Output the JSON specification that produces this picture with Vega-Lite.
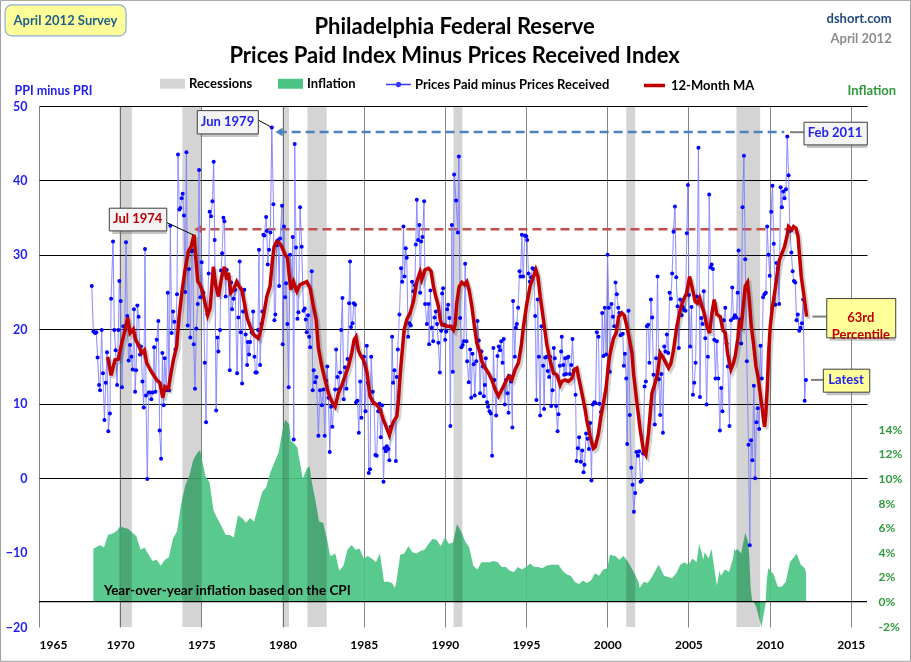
{
"$schema":"https://vega.github.io/schema/vega-lite/v6.json",
"width":828,"height":521,
"autosize":{"type":"none"},
"padding":{"left":39,"top":106,"right":44,"bottom":35},
"background":"#ffffff",
"config":{
 "font":"Lato",
 "view":{"stroke":null},
 "axis":{"labelFont":"Lato","labelFontWeight":"bold","labelFontSize":12,"ticks":false,"domain":false,"titleFont":"Lato","titleFontWeight":"bold","labelOverlap":false},
 "legend":{"labelFont":"Lato","labelFontSize":13,"labelFontWeight":"bold","labelColor":"#000000","padding":0,"labelLimit":400,"title":null}
},
"datasets":{
"ppi":[
{"t":1968.25,"v":25.8},{"t":1968.35,"v":19.7},{"t":1968.45,"v":19.5},{"t":1968.53,"v":19.6},{"t":1968.61,"v":16.2},{"t":1968.70,"v":12.5},{"t":1968.76,"v":11.8},{"t":1968.86,"v":19.9},{"t":1968.94,"v":14.1},{"t":1969.03,"v":7.8},{"t":1969.11,"v":12.8},{"t":1969.19,"v":16.9},{"t":1969.27,"v":6.3},{"t":1969.37,"v":8.7},{"t":1969.44,"v":24.1},{"t":1969.56,"v":31.8},{"t":1969.64,"v":19.9},{"t":1969.72,"v":17.2},{"t":1969.81,"v":12.5},{"t":1969.89,"v":19.9},{"t":1969.95,"v":26.5},{"t":1970.03,"v":23.8},{"t":1970.11,"v":12.2},{"t":1970.20,"v":20.4},{"t":1970.28,"v":19.9},{"t":1970.36,"v":31.7},{"t":1970.44,"v":21.8},{"t":1970.52,"v":15.8},{"t":1970.61,"v":17.9},{"t":1970.69,"v":16.3},{"t":1970.77,"v":14.6},{"t":1970.85,"v":22.7},{"t":1970.92,"v":11.6},{"t":1970.98,"v":14.5},{"t":1971.06,"v":23.2},{"t":1971.14,"v":21.7},{"t":1971.22,"v":16.6},{"t":1971.28,"v":17.7},{"t":1971.37,"v":13.0},{"t":1971.45,"v":9.5},{"t":1971.53,"v":30.8},{"t":1971.59,"v":11.1},{"t":1971.67,"v":-0.1},{"t":1971.76,"v":11.5},{"t":1971.84,"v":11.5},{"t":1971.92,"v":10.6},{"t":1972.00,"v":11.5},{"t":1972.09,"v":17.6},{"t":1972.17,"v":11.6},{"t":1972.25,"v":18.6},{"t":1972.35,"v":21.1},{"t":1972.43,"v":6.4},{"t":1972.52,"v":2.6},{"t":1972.60,"v":16.8},{"t":1972.68,"v":9.8},{"t":1972.74,"v":16.1},{"t":1972.85,"v":11.8},{"t":1972.93,"v":24.9},{"t":1973.01,"v":11.8},{"t":1973.09,"v":33.9},{"t":1973.17,"v":19.5},{"t":1973.26,"v":22.4},{"t":1973.34,"v":21.0},{"t":1973.40,"v":17.3},{"t":1973.50,"v":24.7},{"t":1973.56,"v":43.5},{"t":1973.65,"v":36.1},{"t":1973.71,"v":36.3},{"t":1973.79,"v":37.6},{"t":1973.85,"v":38.2},{"t":1973.93,"v":35.3},{"t":1974.00,"v":25.0},{"t":1974.08,"v":43.8},{"t":1974.16,"v":20.5},{"t":1974.24,"v":28.1},{"t":1974.32,"v":18.9},{"t":1974.41,"v":30.5},{"t":1974.47,"v":30.6},{"t":1974.53,"v":18.0},{"t":1974.61,"v":12.0},{"t":1974.69,"v":20.1},{"t":1974.78,"v":23.4},{"t":1974.86,"v":41.4},{"t":1974.94,"v":24.3},{"t":1975.02,"v":29.0},{"t":1975.12,"v":24.9},{"t":1975.21,"v":15.5},{"t":1975.29,"v":7.5},{"t":1975.37,"v":22.0},{"t":1975.45,"v":27.5},{"t":1975.51,"v":35.8},{"t":1975.60,"v":35.2},{"t":1975.68,"v":37.2},{"t":1975.76,"v":42.5},{"t":1975.82,"v":32.0},{"t":1975.91,"v":9.1},{"t":1975.99,"v":18.9},{"t":1976.05,"v":17.0},{"t":1976.15,"v":19.9},{"t":1976.21,"v":27.9},{"t":1976.28,"v":30.2},{"t":1976.36,"v":35.0},{"t":1976.42,"v":34.5},{"t":1976.50,"v":24.4},{"t":1976.56,"v":28.0},{"t":1976.67,"v":26.9},{"t":1976.75,"v":14.5},{"t":1976.83,"v":26.3},{"t":1976.89,"v":22.7},{"t":1976.99,"v":24.1},{"t":1977.08,"v":25.3},{"t":1977.20,"v":14.1},{"t":1977.28,"v":21.6},{"t":1977.36,"v":29.1},{"t":1977.43,"v":19.6},{"t":1977.51,"v":12.7},{"t":1977.57,"v":22.4},{"t":1977.65,"v":25.3},{"t":1977.73,"v":19.3},{"t":1977.82,"v":15.2},{"t":1977.86,"v":18.3},{"t":1977.94,"v":16.6},{"t":1978.00,"v":18.3},{"t":1978.10,"v":19.6},{"t":1978.19,"v":22.4},{"t":1978.27,"v":16.3},
{"t":1978.33,"v":14.2},{"t":1978.41,"v":14.2},{"t":1978.49,"v":19.9},{"t":1978.55,"v":30.7},{"t":1978.62,"v":15.2},{"t":1978.70,"v":20.7},{"t":1978.76,"v":22.4},{"t":1978.82,"v":32.7},{"t":1978.88,"v":32.6},{"t":1978.99,"v":35.1},{"t":1979.03,"v":33.2},{"t":1979.09,"v":28.7},{"t":1979.17,"v":30.7},{"t":1979.25,"v":33.0},{"t":1979.34,"v":47.1},{"t":1979.44,"v":36.8},{"t":1979.50,"v":21.2},{"t":1979.56,"v":22.0},{"t":1979.64,"v":31.3},{"t":1979.73,"v":32.0},{"t":1979.79,"v":25.8},{"t":1979.85,"v":32.2},{"t":1979.97,"v":36.6},{"t":1980.01,"v":18.0},{"t":1980.09,"v":33.8},{"t":1980.16,"v":24.3},{"t":1980.22,"v":26.2},{"t":1980.30,"v":20.7},{"t":1980.38,"v":12.2},{"t":1980.46,"v":30.0},{"t":1980.57,"v":26.2},{"t":1980.63,"v":32.4},{"t":1980.69,"v":5.2},{"t":1980.75,"v":44.9},{"t":1980.83,"v":31.0},{"t":1980.92,"v":21.4},{"t":1980.98,"v":22.3},{"t":1981.08,"v":36.4},{"t":1981.18,"v":31.1},{"t":1981.29,"v":22.5},{"t":1981.37,"v":22.8},{"t":1981.43,"v":21.3},{"t":1981.49,"v":19.6},{"t":1981.57,"v":21.9},{"t":1981.64,"v":19.0},{"t":1981.70,"v":17.6},{"t":1981.80,"v":27.8},{"t":1981.86,"v":11.8},{"t":1981.92,"v":14.5},{"t":1982.00,"v":12.9},{"t":1982.09,"v":13.6},{"t":1982.21,"v":5.7},{"t":1982.31,"v":11.8},{"t":1982.42,"v":9.8},{"t":1982.52,"v":11.9},{"t":1982.60,"v":5.7},{"t":1982.68,"v":13.1},{"t":1982.76,"v":15.0},{"t":1982.83,"v":10.8},{"t":1982.91,"v":3.5},{"t":1982.99,"v":9.6},{"t":1983.07,"v":6.9},{"t":1983.16,"v":9.8},{"t":1983.24,"v":11.9},{"t":1983.30,"v":17.3},{"t":1983.38,"v":13.6},{"t":1983.46,"v":11.9},{"t":1983.55,"v":14.2},{"t":1983.61,"v":19.9},{"t":1983.69,"v":24.2},{"t":1983.77,"v":10.6},{"t":1983.85,"v":14.9},{"t":1983.94,"v":12.0},{"t":1984.00,"v":16.0},{"t":1984.10,"v":23.5},{"t":1984.16,"v":29.1},{"t":1984.22,"v":20.3},{"t":1984.31,"v":20.8},{"t":1984.39,"v":23.5},{"t":1984.47,"v":23.3},{"t":1984.53,"v":10.2},{"t":1984.61,"v":10.4},{"t":1984.70,"v":6.1},{"t":1984.78,"v":13.0},{"t":1984.86,"v":8.1},{"t":1984.94,"v":16.3},{"t":1985.02,"v":16.3},{"t":1985.11,"v":9.0},{"t":1985.19,"v":17.8},{"t":1985.25,"v":12.8},{"t":1985.31,"v":0.7},{"t":1985.39,"v":1.2},{"t":1985.46,"v":16.3},{"t":1985.56,"v":11.6},{"t":1985.64,"v":10.1},{"t":1985.72,"v":3.1},{"t":1985.80,"v":3.0},{"t":1985.89,"v":9.0},{"t":1985.97,"v":10.0},{"t":1986.05,"v":5.5},{"t":1986.13,"v":9.8},{"t":1986.22,"v":-0.5},{"t":1986.28,"v":4.0},{"t":1986.36,"v":3.6},{"t":1986.42,"v":4.3},{"t":1986.52,"v":3.9},{"t":1986.58,"v":2.4},{"t":1986.67,"v":6.9},{"t":1986.75,"v":19.0},{"t":1986.81,"v":12.8},{"t":1986.89,"v":14.5},{"t":1986.98,"v":2.3},{"t":1987.04,"v":13.6},{"t":1987.10,"v":17.3},{"t":1987.20,"v":22.0},{"t":1987.30,"v":28.2},{"t":1987.37,"v":26.4},{"t":1987.45,"v":33.8},{"t":1987.51,"v":27.1},{"t":1987.59,"v":30.9},{"t":1987.65,"v":29.6},{"t":1987.74,"v":19.0},{"t":1987.82,"v":20.8},{"t":1987.90,"v":20.5},{"t":1987.98,"v":26.4},{"t":1988.06,"v":25.1},{"t":1988.15,"v":25.9},{"t":1988.21,"v":31.4},{"t":1988.27,"v":37.4},{"t":1988.35,"v":32.0},{"t":1988.43,"v":34.0},
{"t":1988.48,"v":24.9},{"t":1988.54,"v":31.8},{"t":1988.62,"v":32.4},{"t":1988.72,"v":37.2},{"t":1988.78,"v":23.4},{"t":1988.89,"v":20.7},{"t":1988.99,"v":23.4},{"t":1989.03,"v":18.0},{"t":1989.11,"v":25.2},{"t":1989.19,"v":20.2},{"t":1989.28,"v":18.4},{"t":1989.36,"v":21.6},{"t":1989.44,"v":22.4},{"t":1989.52,"v":20.7},{"t":1989.60,"v":18.2},{"t":1989.69,"v":14.2},{"t":1989.77,"v":19.8},{"t":1989.83,"v":24.8},{"t":1989.89,"v":25.5},{"t":1989.95,"v":20.6},{"t":1990.02,"v":18.6},{"t":1990.08,"v":19.7},{"t":1990.14,"v":22.7},{"t":1990.20,"v":23.3},{"t":1990.28,"v":21.5},{"t":1990.34,"v":7.0},{"t":1990.43,"v":34.0},{"t":1990.49,"v":14.3},{"t":1990.57,"v":40.8},{"t":1990.69,"v":37.3},{"t":1990.80,"v":33.0},{"t":1990.86,"v":43.2},{"t":1990.94,"v":21.5},{"t":1991.02,"v":17.6},{"t":1991.10,"v":17.9},{"t":1991.17,"v":18.4},{"t":1991.25,"v":28.8},{"t":1991.33,"v":18.4},{"t":1991.37,"v":15.7},{"t":1991.47,"v":12.9},{"t":1991.56,"v":17.3},{"t":1991.62,"v":10.8},{"t":1991.70,"v":16.7},{"t":1991.78,"v":15.3},{"t":1991.84,"v":11.1},{"t":1991.93,"v":15.7},{"t":1992.01,"v":21.1},{"t":1992.09,"v":18.5},{"t":1992.17,"v":11.4},{"t":1992.25,"v":17.0},{"t":1992.34,"v":15.0},{"t":1992.40,"v":11.0},{"t":1992.46,"v":12.5},{"t":1992.52,"v":16.1},{"t":1992.60,"v":10.2},{"t":1992.66,"v":9.6},{"t":1992.75,"v":9.0},{"t":1992.83,"v":8.7},{"t":1992.91,"v":3.0},{"t":1992.99,"v":17.5},{"t":1993.05,"v":13.2},{"t":1993.16,"v":8.4},{"t":1993.24,"v":16.4},{"t":1993.32,"v":17.7},{"t":1993.40,"v":17.2},{"t":1993.47,"v":18.4},{"t":1993.55,"v":15.5},{"t":1993.63,"v":18.7},{"t":1993.69,"v":9.9},{"t":1993.77,"v":13.2},{"t":1993.86,"v":11.4},{"t":1993.92,"v":8.8},{"t":1994.00,"v":13.7},{"t":1994.08,"v":13.0},{"t":1994.16,"v":6.8},{"t":1994.20,"v":23.8},{"t":1994.31,"v":16.3},{"t":1994.37,"v":20.2},{"t":1994.43,"v":20.7},{"t":1994.51,"v":22.9},{"t":1994.60,"v":27.8},{"t":1994.66,"v":27.1},{"t":1994.74,"v":32.7},{"t":1994.82,"v":27.1},{"t":1994.92,"v":32.6},{"t":1995.01,"v":32.5},{"t":1995.07,"v":32.0},{"t":1995.15,"v":27.5},{"t":1995.23,"v":26.4},{"t":1995.31,"v":27.0},{"t":1995.40,"v":28.2},{"t":1995.48,"v":28.1},{"t":1995.56,"v":21.8},{"t":1995.64,"v":10.5},{"t":1995.72,"v":24.0},{"t":1995.79,"v":16.3},{"t":1995.87,"v":8.4},{"t":1995.95,"v":20.4},{"t":1996.05,"v":15.1},{"t":1996.11,"v":9.3},{"t":1996.18,"v":16.2},{"t":1996.28,"v":16.3},{"t":1996.34,"v":14.4},{"t":1996.42,"v":13.6},{"t":1996.48,"v":16.3},{"t":1996.55,"v":9.7},{"t":1996.63,"v":11.8},{"t":1996.71,"v":17.5},{"t":1996.77,"v":16.1},{"t":1996.85,"v":9.7},{"t":1996.94,"v":6.3},{"t":1997.00,"v":8.6},{"t":1997.08,"v":15.1},{"t":1997.16,"v":17.0},{"t":1997.20,"v":19.0},{"t":1997.29,"v":15.2},{"t":1997.35,"v":13.9},{"t":1997.41,"v":16.1},{"t":1997.47,"v":14.0},{"t":1997.55,"v":16.2},{"t":1997.61,"v":16.3},{"t":1997.70,"v":14.0},{"t":1997.78,"v":15.2},{"t":1997.86,"v":18.7},{"t":1997.94,"v":14.5},{"t":1998.05,"v":11.2},{"t":1998.11,"v":2.3},{"t":1998.19,"v":4.0},{"t":1998.27,"v":5.5},{"t":1998.37,"v":2.2},{"t":1998.46,"v":3.7},{"t":1998.54,"v":0.8},{"t":1998.60,"v":1.8},
{"t":1998.70,"v":6.0},{"t":1998.79,"v":5.3},{"t":1998.87,"v":3.9},{"t":1998.95,"v":7.4},{"t":1999.03,"v":-0.3},{"t":1999.11,"v":9.9},{"t":1999.20,"v":10.2},{"t":1999.28,"v":10.1},{"t":1999.36,"v":19.6},{"t":1999.46,"v":19.0},{"t":1999.52,"v":10.0},{"t":1999.61,"v":8.9},{"t":1999.69,"v":22.2},{"t":1999.77,"v":16.4},{"t":1999.85,"v":22.9},{"t":1999.93,"v":16.6},{"t":2000.02,"v":30.0},{"t":2000.10,"v":22.9},{"t":2000.16,"v":14.3},{"t":2000.26,"v":23.4},{"t":2000.35,"v":21.7},{"t":2000.43,"v":20.4},{"t":2000.51,"v":26.3},{"t":2000.59,"v":24.7},{"t":2000.68,"v":22.9},{"t":2000.74,"v":22.2},{"t":2000.82,"v":19.2},{"t":2000.96,"v":19.4},{"t":2001.02,"v":15.1},{"t":2001.09,"v":16.7},{"t":2001.17,"v":13.4},{"t":2001.23,"v":4.6},{"t":2001.31,"v":22.5},{"t":2001.39,"v":8.5},{"t":2001.48,"v":1.4},{"t":2001.56,"v":-0.9},{"t":2001.64,"v":-4.5},{"t":2001.72,"v":-2.0},{"t":2001.80,"v":3.5},{"t":2001.89,"v":3.0},{"t":2001.97,"v":3.6},{"t":2002.05,"v":-0.5},{"t":2002.13,"v":-0.3},{"t":2002.21,"v":3.3},{"t":2002.30,"v":12.3},{"t":2002.38,"v":13.0},{"t":2002.44,"v":20.4},{"t":2002.52,"v":20.6},{"t":2002.60,"v":15.5},{"t":2002.69,"v":24.0},{"t":2002.77,"v":21.6},{"t":2002.85,"v":13.9},{"t":2002.93,"v":7.2},{"t":2003.01,"v":16.1},{"t":2003.10,"v":27.1},{"t":2003.18,"v":13.3},{"t":2003.26,"v":8.5},{"t":2003.34,"v":14.0},{"t":2003.43,"v":6.1},{"t":2003.51,"v":17.7},{"t":2003.59,"v":17.0},{"t":2003.67,"v":19.3},{"t":2003.76,"v":16.8},{"t":2003.84,"v":24.9},{"t":2003.92,"v":24.1},{"t":2004.00,"v":27.5},{"t":2004.08,"v":33.1},{"t":2004.17,"v":36.5},{"t":2004.25,"v":27.0},{"t":2004.33,"v":23.1},{"t":2004.41,"v":17.5},{"t":2004.49,"v":24.0},{"t":2004.58,"v":21.9},{"t":2004.66,"v":23.0},{"t":2004.74,"v":22.6},{"t":2004.82,"v":22.5},{"t":2004.90,"v":32.9},{"t":2004.97,"v":39.4},{"t":2005.03,"v":24.6},{"t":2005.11,"v":17.7},{"t":2005.19,"v":23.0},{"t":2005.28,"v":11.2},{"t":2005.36,"v":12.8},{"t":2005.44,"v":15.5},{"t":2005.52,"v":24.4},{"t":2005.62,"v":44.4},{"t":2005.71,"v":10.9},{"t":2005.79,"v":21.5},{"t":2005.87,"v":20.7},{"t":2005.95,"v":25.1},{"t":2006.04,"v":18.8},{"t":2006.12,"v":9.9},{"t":2006.20,"v":16.3},{"t":2006.28,"v":38.1},{"t":2006.36,"v":28.3},{"t":2006.43,"v":28.7},{"t":2006.51,"v":28.1},{"t":2006.59,"v":18.6},{"t":2006.67,"v":13.4},{"t":2006.75,"v":18.4},{"t":2006.84,"v":13.4},{"t":2006.94,"v":6.4},{"t":2007.02,"v":12.1},{"t":2007.10,"v":9.0},{"t":2007.18,"v":21.2},{"t":2007.27,"v":22.9},{"t":2007.35,"v":18.1},{"t":2007.43,"v":15.0},{"t":2007.53,"v":7.0},{"t":2007.62,"v":21.2},{"t":2007.70,"v":25.6},{"t":2007.78,"v":21.5},{"t":2007.86,"v":21.9},{"t":2007.95,"v":21.6},{"t":2008.03,"v":24.9},{"t":2008.09,"v":30.6},{"t":2008.17,"v":21.3},{"t":2008.25,"v":18.1},{"t":2008.33,"v":36.4},{"t":2008.42,"v":43.3},{"t":2008.50,"v":29.4},{"t":2008.60,"v":15.7},{"t":2008.70,"v":4.5},
{"t":2008.78,"v":-9.0},{"t":2008.86,"v":5.1},{"t":2008.94,"v":2.4},{"t":2009.03,"v":12.4},{"t":2009.11,"v":0.0},{"t":2009.19,"v":7.5},{"t":2009.27,"v":9.4},{"t":2009.36,"v":6.6},{"t":2009.44,"v":17.8},{"t":2009.52,"v":13.4},{"t":2009.60,"v":24.3},{"t":2009.68,"v":24.7},{"t":2009.77,"v":24.9},{"t":2009.85,"v":33.8},{"t":2009.93,"v":30.0},{"t":2010.01,"v":27.2},{"t":2010.10,"v":35.8},{"t":2010.18,"v":39.3},{"t":2010.26,"v":31.5},{"t":2010.35,"v":23.3},{"t":2010.43,"v":28.9},{"t":2010.51,"v":28.2},{"t":2010.59,"v":23.4},{"t":2010.68,"v":39.1},{"t":2010.76,"v":36.4},{"t":2010.84,"v":38.5},{"t":2010.92,"v":37.6},{"t":2011.01,"v":38.8},{"t":2011.09,"v":45.9},{"t":2011.17,"v":40.7},{"t":2011.25,"v":33.2},{"t":2011.34,"v":30.3},{"t":2011.42,"v":27.8},{"t":2011.50,"v":26.5},{"t":2011.58,"v":26.3},{"t":2011.66,"v":21.2},{"t":2011.74,"v":22.0},{"t":2011.83,"v":19.8},{"t":2011.91,"v":20.2},{"t":2011.99,"v":20.8},{"t":2012.07,"v":24.0},{"t":2012.16,"v":10.4},{"t":2012.24,"v":13.2}
],
"ma":[
{"t":1969.23,"v":16.3},{"t":1969.44,"v":13.8},{"t":1969.68,"v":15.9},{"t":1969.89,"v":16.0},{"t":1970.09,"v":18.1},{"t":1970.30,"v":19.9},{"t":1970.46,"v":21.6},{"t":1970.61,"v":19.5},{"t":1970.81,"v":20.0},{"t":1970.95,"v":18.6},{"t":1971.12,"v":17.9},{"t":1971.33,"v":16.8},{"t":1971.49,"v":17.2},{"t":1971.63,"v":15.5},{"t":1971.84,"v":14.6},{"t":1972.04,"v":13.9},{"t":1972.25,"v":13.2},{"t":1972.45,"v":12.8},{"t":1972.62,"v":10.8},{"t":1972.76,"v":12.3},{"t":1972.97,"v":12.0},{"t":1973.13,"v":14.1},{"t":1973.28,"v":15.9},{"t":1973.48,"v":17.7},{"t":1973.63,"v":21.7},{"t":1973.79,"v":24.8},{"t":1974.00,"v":28.0},{"t":1974.20,"v":30.5},{"t":1974.37,"v":31.1},{"t":1974.55,"v":32.7},{"t":1974.65,"v":29.8},{"t":1974.78,"v":26.4},{"t":1974.92,"v":26.0},{"t":1975.06,"v":25.1},{"t":1975.23,"v":23.5},{"t":1975.39,"v":21.9},{"t":1975.54,"v":22.9},{"t":1975.74,"v":28.4},{"t":1975.88,"v":26.0},{"t":1976.05,"v":24.4},{"t":1976.26,"v":27.1},{"t":1976.42,"v":28.4},{"t":1976.56,"v":26.7},{"t":1976.67,"v":27.6},{"t":1976.81,"v":24.9},{"t":1976.97,"v":25.3},{"t":1977.18,"v":26.4},{"t":1977.32,"v":25.8},{"t":1977.49,"v":25.3},{"t":1977.65,"v":23.5},{"t":1977.82,"v":21.5},{"t":1978.00,"v":20.4},{"t":1978.21,"v":19.3},{"t":1978.51,"v":18.8},{"t":1978.62,"v":19.5},{"t":1978.82,"v":21.7},{"t":1979.03,"v":24.4},{"t":1979.23,"v":25.8},{"t":1979.38,"v":29.3},{"t":1979.48,"v":31.1},{"t":1979.64,"v":31.8},{"t":1979.81,"v":31.6},{"t":1979.95,"v":31.1},{"t":1980.16,"v":30.0},{"t":1980.30,"v":29.6},{"t":1980.42,"v":27.1},{"t":1980.51,"v":25.3},{"t":1980.67,"v":26.4},{"t":1980.88,"v":25.1},{"t":1981.08,"v":26.0},{"t":1981.29,"v":26.2},{"t":1981.49,"v":26.4},{"t":1981.70,"v":25.5},{"t":1981.90,"v":23.1},{"t":1982.07,"v":21.3},{"t":1982.21,"v":17.5},{"t":1982.42,"v":15.0},{"t":1982.62,"v":13.2},{"t":1982.83,"v":11.4},{"t":1983.03,"v":10.3},{"t":1983.24,"v":9.6},{"t":1983.44,"v":11.4},{"t":1983.65,"v":12.5},{"t":1983.85,"v":13.7},{"t":1984.06,"v":15.0},{"t":1984.26,"v":16.8},{"t":1984.41,"v":18.6},{"t":1984.53,"v":19.0},{"t":1984.67,"v":17.2},{"t":1984.78,"v":16.6},{"t":1984.98,"v":15.9},{"t":1985.19,"v":14.3},{"t":1985.39,"v":11.0},{"t":1985.60,"v":10.1},{"t":1985.80,"v":9.9},{"t":1986.01,"v":9.2},{"t":1986.22,"v":7.8},{"t":1986.42,"v":6.7},{"t":1986.58,"v":5.8},{"t":1986.73,"v":6.9},{"t":1986.83,"v":7.6},{"t":1987.04,"v":8.3},{"t":1987.14,"v":10.5},{"t":1987.24,"v":13.7},{"t":1987.34,"v":16.3},{"t":1987.49,"v":19.9},{"t":1987.65,"v":21.3},{"t":1987.86,"v":22.2},{"t":1988.06,"v":23.7},{"t":1988.27,"v":26.4},{"t":1988.47,"v":27.7},{"t":1988.58,"v":26.7},{"t":1988.78,"v":28.0},{"t":1988.99,"v":28.2},{"t":1989.15,"v":27.8},{"t":1989.30,"v":25.7},{"t":1989.44,"v":24.4},{"t":1989.60,"v":23.1},{"t":1989.71,"v":21.3},{"t":1989.81,"v":20.6},{"t":1990.02,"v":20.5},{"t":1990.22,"v":20.4},{"t":1990.38,"v":20.4},{"t":1990.53,"v":19.9},{"t":1990.63,"v":20.6},{"t":1990.73,"v":23.5},{"t":1990.88,"v":25.7},{"t":1991.04,"v":26.3},{"t":1991.21,"v":26.0},{"t":1991.35,"v":26.4},{"t":1991.49,"v":25.3},{"t":1991.66,"v":23.1},{"t":1991.82,"v":20.4},{"t":1991.97,"v":18.1},{"t":1992.17,"v":16.8},{"t":1992.27,"v":15.7},{"t":1992.48,"v":14.8},{"t":1992.69,"v":14.1},{"t":1992.89,"v":13.2},{"t":1993.10,"v":11.9},{"t":1993.30,"v":11.0},{"t":1993.51,"v":11.9},{"t":1993.71,"v":12.8},{"t":1993.92,"v":13.7},{"t":1994.12,"v":13.2},{"t":1994.33,"v":14.6},{"t":1994.53,"v":15.5},{"t":1994.70,"v":17.7},{"t":1994.84,"v":20.4},{"t":1995.05,"v":23.5},{"t":1995.25,"v":25.8},{"t":1995.46,"v":27.1},{"t":1995.60,"v":28.0},{"t":1995.73,"v":27.1},{"t":1995.87,"v":24.4},{"t":1996.07,"v":21.3},{"t":1996.28,"v":17.9},{"t":1996.49,"v":15.7},{"t":1996.69,"v":14.1},{"t":1996.90,"v":13.9},{"t":1997.10,"v":12.5},{"t":1997.20,"v":13.0},{"t":1997.41,"v":13.2},{"t":1997.61,"v":13.0},{"t":1997.82,"v":13.4},{"t":1997.98,"v":14.6},{"t":1998.13,"v":14.8},{"t":1998.23,"v":13.6},{"t":1998.44,"v":11.4},{"t":1998.64,"v":9.2},{"t":1998.74,"v":7.8},{"t":1998.95,"v":5.6},{"t":1999.15,"v":4.0},{"t":1999.26,"v":4.2},{"t":1999.46,"v":6.0},{"t":1999.61,"v":8.3},{"t":1999.77,"v":10.1},{"t":1999.94,"v":12.3},{"t":2000.08,"v":15.5},{"t":2000.22,"v":17.2},{"t":2000.39,"v":18.8},{"t":2000.55,"v":19.5},{"t":2000.70,"v":21.7},{"t":2000.90,"v":22.2},{"t":2001.04,"v":21.9},{"t":2001.21,"v":20.4},{"t":2001.37,"v":18.6},{"t":2001.52,"v":16.8},{"t":2001.62,"v":14.1},{"t":2001.83,"v":10.1},{"t":2002.03,"v":6.5},{"t":2002.24,"v":3.6},{"t":2002.38,"v":3.1},{"t":2002.54,"v":6.0},{"t":2002.75,"v":11.4},{"t":2002.95,"v":12.8},{"t":2003.10,"v":14.1},{"t":2003.26,"v":16.8},{"t":2003.47,"v":16.1},{"t":2003.63,"v":15.4},{"t":2003.78,"v":14.8},{"t":2003.92,"v":15.4},{"t":2004.08,"v":17.2},{"t":2004.29,"v":20.4},{"t":2004.49,"v":22.6},{"t":2004.70,"v":24.0},{"t":2004.90,"v":24.9},{"t":2005.07,"v":27.1},{"t":2005.21,"v":25.8},{"t":2005.42,"v":23.7},{"t":2005.56,"v":23.5},{"t":2005.69,"v":24.2},{"t":2005.83,"v":23.1},{"t":2005.97,"v":22.2},{"t":2006.14,"v":20.4},{"t":2006.30,"v":19.5},{"t":2006.45,"v":22.2},{"t":2006.59,"v":24.0},{"t":2006.75,"v":22.0},{"t":2006.96,"v":21.7},{"t":2007.12,"v":19.9},{"t":2007.27,"v":19.5},{"t":2007.41,"v":16.8},{"t":2007.62,"v":14.6},{"t":2007.78,"v":15.5},{"t":2007.88,"v":16.4},{"t":2008.05,"v":18.8},{"t":2008.13,"v":20.8},{"t":2008.25,"v":20.4},{"t":2008.34,"v":22.2},{"t":2008.50,"v":25.8},{"t":2008.64,"v":26.3},{"t":2008.75,"v":24.0},{"t":2008.87,"v":20.4},{"t":2009.01,"v":18.1},{"t":2009.16,"v":15.0},{"t":2009.28,"v":13.7},{"t":2009.42,"v":11.4},{"t":2009.53,"v":9.6},{"t":2009.63,"v":7.8},{"t":2009.69,"v":6.9},{"t":2009.77,"v":8.7},{"t":2009.86,"v":12.3},{"t":2009.94,"v":16.8},{"t":2010.04,"v":20.4},{"t":2010.18,"v":23.1},{"t":2010.31,"v":24.9},{"t":2010.45,"v":27.1},{"t":2010.60,"v":29.3},{"t":2010.76,"v":30.2},{"t":2010.92,"v":31.1},{"t":2011.07,"v":32.5},{"t":2011.17,"v":33.8},{"t":2011.27,"v":33.6},{"t":2011.38,"v":33.4},{"t":2011.48,"v":33.8},{"t":2011.62,"v":33.6},{"t":2011.75,"v":32.5},{"t":2011.85,"v":29.8},{"t":2011.95,"v":27.1},{"t":2012.09,"v":24.9},{"t":2012.20,"v":23.1},{"t":2012.28,"v":21.7}
],
"cpi":[
{"t":1968.35,"v":4.3},{"t":1968.5,"v":4.4},{"t":1968.75,"v":4.6},{"t":1969.0,"v":4.4},{"t":1969.25,"v":5.4},{"t":1969.5,"v":5.5},{"t":1969.75,"v":5.7},{"t":1970.0,"v":6.1},{"t":1970.25,"v":6.0},{"t":1970.5,"v":5.9},{"t":1970.75,"v":5.6},{"t":1971.0,"v":5.3},{"t":1971.25,"v":4.2},{"t":1971.5,"v":4.4},{"t":1971.75,"v":3.8},{"t":1972.0,"v":3.3},{"t":1972.25,"v":3.4},{"t":1972.5,"v":2.9},{"t":1972.75,"v":3.4},{"t":1973.0,"v":3.6},{"t":1973.25,"v":5.1},{"t":1973.5,"v":5.7},{"t":1973.75,"v":7.9},{"t":1974.0,"v":9.4},{"t":1974.25,"v":10.2},{"t":1974.5,"v":11.5},{"t":1974.75,"v":12.1},{"t":1974.92,"v":12.3},{"t":1975.0,"v":11.8},{"t":1975.25,"v":10.2},{"t":1975.5,"v":9.7},{"t":1975.75,"v":7.4},{"t":1976.0,"v":6.7},{"t":1976.25,"v":6.1},{"t":1976.5,"v":5.4},{"t":1976.75,"v":5.4},{"t":1977.0,"v":5.2},{"t":1977.25,"v":7.0},{"t":1977.5,"v":6.8},{"t":1977.75,"v":6.4},{"t":1978.0,"v":6.8},{"t":1978.25,"v":6.5},{"t":1978.5,"v":7.7},{"t":1978.75,"v":8.9},{"t":1979.0,"v":9.3},{"t":1979.25,"v":10.5},{"t":1979.5,"v":11.3},{"t":1979.75,"v":12.1},{"t":1980.0,"v":13.9},{"t":1980.17,"v":14.8},{"t":1980.42,"v":14.4},{"t":1980.5,"v":13.1},{"t":1980.75,"v":12.8},{"t":1980.92,"v":12.5},{"t":1981.0,"v":11.8},{"t":1981.25,"v":10.0},{"t":1981.5,"v":10.8},{"t":1981.67,"v":11.0},{"t":1981.75,"v":10.1},{"t":1981.92,"v":8.9},{"t":1982.0,"v":8.4},{"t":1982.25,"v":6.5},{"t":1982.5,"v":6.4},{"t":1982.75,"v":5.0},{"t":1982.92,"v":3.8},{"t":1983.0,"v":3.7},{"t":1983.25,"v":3.9},{"t":1983.5,"v":2.5},{"t":1983.75,"v":2.9},{"t":1984.0,"v":4.2},{"t":1984.25,"v":4.6},{"t":1984.5,"v":4.2},{"t":1984.75,"v":4.3},{"t":1985.0,"v":3.5},{"t":1985.25,"v":3.7},{"t":1985.5,"v":3.5},{"t":1985.75,"v":3.2},{"t":1986.0,"v":3.9},{"t":1986.25,"v":1.6},{"t":1986.5,"v":1.6},{"t":1986.75,"v":1.5},{"t":1986.92,"v":1.1},{"t":1987.0,"v":1.5},{"t":1987.25,"v":3.8},{"t":1987.5,"v":3.9},{"t":1987.75,"v":4.5},{"t":1988.0,"v":4.0},{"t":1988.25,"v":3.9},{"t":1988.5,"v":4.1},{"t":1988.75,"v":4.2},{"t":1989.0,"v":4.7},{"t":1989.25,"v":5.1},{"t":1989.5,"v":5.0},{"t":1989.75,"v":4.5},{"t":1990.0,"v":5.2},{"t":1990.25,"v":4.7},{"t":1990.5,"v":4.8},{"t":1990.75,"v":6.3},{"t":1991.0,"v":5.7},{"t":1991.25,"v":4.9},{"t":1991.5,"v":4.4},{"t":1991.75,"v":2.9},{"t":1992.0,"v":2.6},{"t":1992.25,"v":3.2},{"t":1992.5,"v":3.2},{"t":1992.75,"v":3.2},{"t":1993.0,"v":3.3},{"t":1993.25,"v":3.2},{"t":1993.5,"v":2.8},{"t":1993.75,"v":2.8},{"t":1994.0,"v":2.5},{"t":1994.25,"v":2.4},{"t":1994.5,"v":2.8},{"t":1994.75,"v":2.6},{"t":1995.0,"v":2.8},{"t":1995.25,"v":3.1},{"t":1995.5,"v":2.8},{"t":1995.75,"v":2.8},{"t":1996.0,"v":2.7},{"t":1996.25,"v":2.9},{"t":1996.5,"v":3.0},{"t":1996.75,"v":3.0},{"t":1997.0,"v":3.0},{"t":1997.25,"v":2.5},{"t":1997.5,"v":2.2},{"t":1997.75,"v":2.1},{"t":1998.0,"v":1.6},{"t":1998.25,"v":1.4},{"t":1998.5,"v":1.7},{"t":1998.75,"v":1.5},{"t":1999.0,"v":1.7},{"t":1999.25,"v":2.3},{"t":1999.5,"v":2.1},{"t":1999.75,"v":2.6},{"t":2000.0,"v":2.7},{"t":2000.17,"v":3.8},{"t":2000.5,"v":3.7},{"t":2000.75,"v":3.4},{"t":2001.0,"v":3.7},{"t":2001.25,"v":3.3},{"t":2001.5,"v":2.7},{"t":2001.75,"v":2.1},{"t":2001.92,"v":1.6},{"t":2002.0,"v":1.1},{"t":2002.25,"v":1.6},{"t":2002.5,"v":1.5},{"t":2002.75,"v":2.0},{"t":2003.0,"v":2.6},{"t":2003.17,"v":3.0},{"t":2003.5,"v":2.1},{"t":2003.75,"v":2.0},{"t":2004.0,"v":1.9},{"t":2004.25,"v":2.3},{"t":2004.5,"v":3.0},{"t":2004.75,"v":3.2},{"t":2005.0,"v":3.0},{"t":2005.25,"v":3.5},{"t":2005.5,"v":3.2},{"t":2005.67,"v":4.7},{"t":2005.92,"v":3.4},{"t":2006.0,"v":4.0},{"t":2006.25,"v":3.5},{"t":2006.42,"v":4.3},{"t":2006.75,"v":1.3},{"t":2006.92,"v":2.5},{"t":2007.0,"v":2.1},{"t":2007.25,"v":2.6},{"t":2007.5,"v":2.4},{"t":2007.75,"v":3.5},{"t":2007.83,"v":4.3},{"t":2007.92,"v":4.1},{"t":2008.0,"v":4.3},{"t":2008.25,"v":3.9},{"t":2008.5,"v":5.6},{"t":2008.67,"v":4.9},{"t":2008.75,"v":3.7},{"t":2008.83,"v":1.1},{"t":2008.92,"v":0.1},{"t":2009.0,"v":0.0},{"t":2009.17,"v":-0.4},{"t":2009.5,"v":-2.1},{"t":2009.75,"v":-0.2},{"t":2009.83,"v":1.8},{"t":2009.92,"v":2.7},{"t":2010.0,"v":2.6},{"t":2010.25,"v":2.2},{"t":2010.5,"v":1.2},{"t":2010.75,"v":1.2},{"t":2011.0,"v":1.6},{"t":2011.25,"v":3.2},{"t":2011.5,"v":3.6},{"t":2011.67,"v":3.9},{"t":2011.92,"v":3.0},{"t":2012.0,"v":2.9},{"t":2012.17,"v":2.7},{"t":2012.25,"v":2.3}
],
"rec":[{"s":1969.95,"e":1970.72},{"s":1973.83,"e":1975.0},{"s":1979.99,"e":1980.4},{"s":1981.53,"e":1982.72},{"s":1990.53,"e":1991.08},{"s":2001.17,"e":2001.72},{"s":2007.96,"e":2009.42}]
},
"resolve":{"scale":{"y":"independent"}},
"layer":[
 {"data":{"name":"cpi"},
  "layer":[
   {"mark":{"type":"area","fillOpacity":0.92},
    "encoding":{
     "x":{"field":"t","type":"quantitative","scale":{"domain":[1965,2016],"nice":false,"zero":false},
          "axis":{"values":[1965,1970,1975,1980,1985,1990,1995,2000,2005,2010,2015],"format":"d","title":null,"grid":true,"gridColor":"#868686","labelColor":"#000000","labelPadding":12}},
     "y":{"field":"v","type":"quantitative","scale":{"domain":[-2.07,40.28],"nice":false,"zero":false},
          "axis":{"orient":"right","values":[-2,0,2,4,6,8,10,12,14],"labelExpr":"datum.value + '%'","grid":false,"labelColor":"#2f9a3c","labelPadding":11,"title":"Inflation","titleColor":"#2f9a3c","titleFontSize":13,"titleAngle":0,"titleAlign":"left","titleBaseline":"middle","titleX":-20,"titleY":-16}},
     "y2":{"datum":0},
     "fill":{"datum":"Inflation","type":"nominal","scale":{"domain":["Recessions","Inflation"],"range":["#d4d4d4","#4cc483"]},
             "legend":{"orient":"none","legendX":121,"legendY":-35,"direction":"horizontal","columns":2,"columnPadding":25,"symbolType":"M-1,-0.4H1V0.4H-1Z","symbolSize":625,"symbolStrokeWidth":0,"labelOffset":4}}
    }},
   {"data":{"values":[{"z":0}]},"mark":{"type":"rule","color":"#000000","strokeWidth":1.2},"encoding":{"y":{"field":"z","type":"quantitative"}}}
  ]},
 {"data":{"name":"rec"},"mark":{"type":"rect","blend":"multiply"},
  "encoding":{"x":{"field":"s","type":"quantitative"},"x2":{"field":"e"},"fill":{"datum":"Recessions","type":"nominal"}}},
 {"resolve":{"scale":{"strokeDash":"independent"}},
  "layer":[
   {"data":{"values":[{"a":1979.7,"b":2010.9,"v":46.5}]},"mark":{"type":"rule","color":"#4f81bd","strokeWidth":2.5,"strokeDash":[9,5]},
    "encoding":{"x":{"field":"a","type":"quantitative"},"x2":{"field":"b"},
     "y":{"field":"v","type":"quantitative","scale":{"domain":[-20,50],"nice":false,"zero":false},
          "axis":{"orient":"left","values":[-20,-10,0,10,20,30,40,50],"labelColor":"#1f1fef","labelFontSize":12.5,"labelPadding":12,"grid":true,"gridColor":{"condition":{"test":"datum.value < 0","value":"transparent"},"value":"#000000"},"title":"PPI minus PRI","titleColor":"#1f1fef","titleFontSize":12.5,"titleAngle":0,"titleAlign":"left","titleBaseline":"middle","titleX":-25,"titleY":-16}}}},
   {"data":{"values":[{"a":1974.7,"b":2011.1,"v":33.45}]},"mark":{"type":"rule","color":"#c0504d","strokeWidth":2.5,"strokeDash":[9,5]},
    "encoding":{"x":{"field":"a","type":"quantitative"},"x2":{"field":"b"},"y":{"field":"v","type":"quantitative"}}},
   {"data":{"values":[{"t":1979.78,"v":46.5}]},"mark":{"type":"point","shape":"triangle-left","filled":true,"color":"#4f81bd","size":70,"opacity":1},
    "encoding":{"x":{"field":"t","type":"quantitative"},"y":{"field":"v","type":"quantitative"}}},
   {"data":{"values":[{"t":1974.78,"v":33.45}]},"mark":{"type":"point","shape":"triangle-left","filled":true,"color":"#c0504d","size":70,"opacity":1},
    "encoding":{"x":{"field":"t","type":"quantitative"},"y":{"field":"v","type":"quantitative"}}},
   {"data":{"name":"ppi"},"mark":{"type":"line","color":"#7f7fff","strokeWidth":1},
    "encoding":{"x":{"field":"t","type":"quantitative"},"y":{"field":"v","type":"quantitative"},
     "strokeDash":{"datum":"Prices Paid minus Prices Received","type":"nominal","scale":{"range":[[1,0]]},
       "legend":{"orient":"none","legendX":346,"legendY":-35,"symbolType":"M-1,0H1M0.16,0A0.16,0.16,0,1,1,-0.16,0A0.16,0.16,0,1,1,0.16,0","symbolSize":625,"symbolStrokeColor":"#3a3aff","symbolStrokeWidth":1.5,"symbolFillColor":"#0000ff","labelOffset":3}}}},
   {"data":{"name":"ppi"},"mark":{"type":"point","filled":true,"color":"#0000ff","size":16,"opacity":1,"strokeWidth":0},
    "encoding":{"x":{"field":"t","type":"quantitative"},"y":{"field":"v","type":"quantitative"}}},
   {"data":{"name":"ma"},"mark":{"type":"line","color":"#000000","opacity":0.18,"strokeWidth":4,"xOffset":2,"yOffset":2.5},
    "encoding":{"x":{"field":"t","type":"quantitative"},"y":{"field":"v","type":"quantitative"}}},
   {"data":{"name":"ma"},"mark":{"type":"line","color":"#c00000","strokeWidth":3.5},
    "encoding":{"x":{"field":"t","type":"quantitative"},"y":{"field":"v","type":"quantitative"},
     "strokeDash":{"datum":"12-Month MA","type":"nominal","scale":{"range":[[1,0]]},
       "legend":{"orient":"none","legendX":603,"legendY":-33,"symbolType":"M-1,0H1","symbolSize":441,"symbolStrokeColor":"#c00000","symbolStrokeWidth":3.5,"labelOffset":4}}}},
   {"data":{"values":[{"a":1978.51,"b":1979.27,"c":48.1,"d":47.2},{"a":1972.87,"b":1974.5,"c":34.34,"d":32.68}]},"mark":{"type":"rule","color":"#000000","strokeWidth":1},
    "encoding":{"x":{"field":"a","type":"quantitative"},"x2":{"field":"b"},"y":{"field":"c","type":"quantitative"},"y2":{"field":"d"}}},
   {"data":{"values":[{"a":2011.26,"b":2012.12,"c":46.48},{"a":2012.63,"b":2013.52,"c":21.71},{"a":2012.55,"b":2013.31,"c":13.2}]},"mark":{"type":"rule","color":"#7f7f7f","strokeWidth":2},
    "encoding":{"x":{"field":"a","type":"quantitative"},"x2":{"field":"b"},"y":{"field":"c","type":"quantitative"}}},
   {"data":{"values":[{"a":1974.75,"b":1978.51,"c":46.25,"d":49.38},{"a":1969.33,"b":1972.87,"c":33.22,"d":36.27},{"a":2012.12,"b":2016.02,"c":44.77,"d":47.82},{"a":2013.52,"b":2017.77,"c":18.85,"d":24.13},{"a":2013.31,"b":2016.17,"c":11.55,"d":14.64}]},
    "mark":{"type":"rect","color":"#7f7f7f","opacity":0.45,"xOffset":3,"yOffset":3},
    "encoding":{"x":{"field":"a","type":"quantitative"},"x2":{"field":"b"},"y":{"field":"c","type":"quantitative"},"y2":{"field":"d"}}},
   {"data":{"values":[{"a":1974.75,"b":1978.51,"c":46.25,"d":49.38},{"a":1969.33,"b":1972.87,"c":33.22,"d":36.27},{"a":2012.12,"b":2016.02,"c":44.77,"d":47.82}]},
    "mark":{"type":"rect","fill":"#f4f4f4","stroke":"#3f3f3f","strokeWidth":1},
    "encoding":{"x":{"field":"a","type":"quantitative"},"x2":{"field":"b"},"y":{"field":"c","type":"quantitative"},"y2":{"field":"d"}}},
   {"data":{"values":[{"a":2013.52,"b":2017.77,"c":18.85,"d":24.13},{"a":2013.31,"b":2016.17,"c":11.55,"d":14.64}]},
    "mark":{"type":"rect","fill":"#ffff99","stroke":"#3f3f3f","strokeWidth":1},
    "encoding":{"x":{"field":"a","type":"quantitative"},"x2":{"field":"b"},"y":{"field":"c","type":"quantitative"},"y2":{"field":"d"}}},
   {"data":{"values":[{"a":1962.91,"b":1970.36,"c":59.42,"d":63.58}]},
    "mark":{"type":"rect","fill":"#ffff99","stroke":"#8eaed6","strokeWidth":1.2,"cornerRadius":7},
    "encoding":{"x":{"field":"a","type":"quantitative"},"x2":{"field":"b"},"y":{"field":"c","type":"quantitative"},"y2":{"field":"d"}}},
   {"data":{"values":[{"t":1976.61,"v":47.9,"s":"Jun 1979"},{"t":2014.03,"v":46.35,"s":"Feb 2011"},{"t":2014.71,"v":13.2,"s":"Latest"}]},
    "mark":{"type":"text","font":"Lato","fontWeight":"bold","fontSize":13,"color":"#1f1fef","align":"center","baseline":"middle"},
    "encoding":{"x":{"field":"t","type":"quantitative"},"y":{"field":"v","type":"quantitative"},"text":{"field":"s"}}},
   {"data":{"values":[{"t":1971.08,"v":34.79,"s":"Jul 1974"},{"t":2015.62,"v":21.55,"s":"63rd\nPercentile"}]},
    "mark":{"type":"text","font":"Lato","fontWeight":"bold","fontSize":13,"color":"#c00000","align":"center","baseline":"middle","lineBreak":"\n","lineHeight":17},
    "encoding":{"x":{"field":"t","type":"quantitative"},"y":{"field":"v","type":"quantitative"},"text":{"field":"s"}}},
   {"data":{"values":[{"t":1966.63,"v":61.4,"s":"April 2012  Survey"}]},
    "mark":{"type":"text","font":"Lato","fontWeight":"bold","fontSize":13,"color":"#1f5c8b","align":"center","baseline":"middle"},
    "encoding":{"x":{"field":"t","type":"quantitative"},"y":{"field":"v","type":"quantitative"},"text":{"field":"s"}}},
   {"data":{"values":[{"t":2017.52,"v":61.66,"s":"dshort.com"}]},
    "mark":{"type":"text","font":"Lato","fontWeight":"bold","fontSize":13,"color":"#1f497d","align":"right","baseline":"middle"},
    "encoding":{"x":{"field":"t","type":"quantitative"},"y":{"field":"v","type":"quantitative"},"text":{"field":"s"}}},
   {"data":{"values":[{"t":2017.52,"v":59.06,"s":"April 2012"}]},
    "mark":{"type":"text","font":"Lato","fontWeight":"bold","fontSize":13,"color":"#8c8c8c","align":"right","baseline":"middle"},
    "encoding":{"x":{"field":"t","type":"quantitative"},"y":{"field":"v","type":"quantitative"},"text":{"field":"s"}}},
   {"data":{"values":[{"t":1990.6,"v":59.69,"s":"Philadelphia Federal Reserve"},{"t":1990.6,"v":55.83,"s":"Prices Paid Index Minus Prices Received Index"}]},
    "mark":{"type":"text","font":"Lato","fontWeight":"bold","fontSize":22,"color":"#000000","align":"center","baseline":"alphabetic"},
    "encoding":{"x":{"field":"t","type":"quantitative"},"y":{"field":"v","type":"quantitative"},"text":{"field":"s"}}},
   {"data":{"values":[{"t":1969.0,"v":-15.1,"s":"Year-over-year inflation based on the CPI"}]},
    "mark":{"type":"text","font":"Lato","fontWeight":"bold","fontSize":13.5,"color":"#000000","align":"left","baseline":"middle"},
    "encoding":{"x":{"field":"t","type":"quantitative"},"y":{"field":"v","type":"quantitative"},"text":{"field":"s"}}},
   {"data":{"values":[{"a":1962.63,"b":2018.68,"c":-24.61,"d":64.19}]},
    "mark":{"type":"rect","fill":"transparent","stroke":"#a0a0a0","strokeWidth":1},
    "encoding":{"x":{"field":"a","type":"quantitative"},"x2":{"field":"b"},"y":{"field":"c","type":"quantitative"},"y2":{"field":"d"}}}
  ]}
]
}
